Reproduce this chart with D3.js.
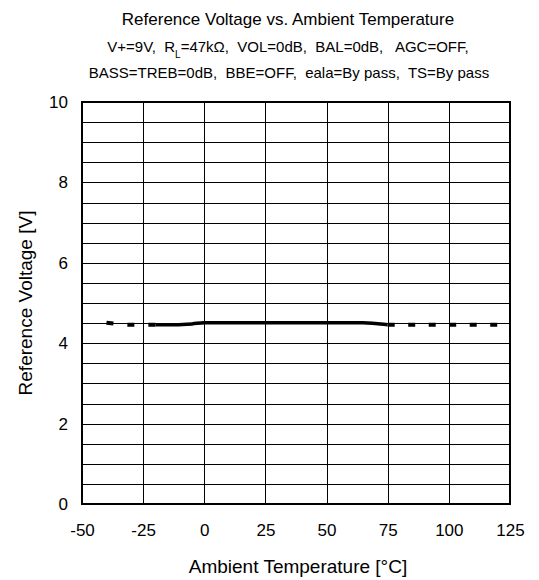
<!DOCTYPE html>
<html>
<head>
<meta charset="utf-8">
<script src="https://cdn.jsdelivr.net/npm/d3@7"></script>
<style>
  html, body { margin: 0; padding: 0; background: #fff; }
  text { font-family: "Liberation Sans", Arial, sans-serif; fill: #000; white-space: pre; }
</style>
</head>
<body>
<svg id="chart" width="539" height="580"></svg>
<script>
// ---- data ----
const xTicks = [-50, -25, 0, 25, 50, 75, 100, 125];
const yTicks = [0, 2, 4, 6, 8, 10];
const dashedLeftT = [-40, -30, -20];
const dashedLeftV = [4.51, 4.46, 4.46];
const solidT = [-20, -12, -5, 0, 25, 50, 65, 70, 75];
const solidV = [4.46, 4.46, 4.48, 4.51, 4.51, 4.51, 4.51, 4.49, 4.46];
const dashedRightT = [75, 100, 120];
const dashedRightV = [4.46, 4.46, 4.46];

const titleText = "Reference Voltage vs. Ambient Temperature";
const xLabel = "Ambient Temperature [°C]";
const yLabel = "Reference Voltage [V]";

// ---- layout ----
const svg = d3.select("#chart");
const x = d3.scaleLinear().domain([-50, 125]).range([82, 510]);
const y = d3.scaleLinear().domain([0, 10]).range([504, 102]);

// grid
const grid = svg.append("g");
grid.selectAll("line.h").data(d3.range(0, 10.01, 0.5)).join("line")
  .attr("x1", x(-50)).attr("x2", x(125))
  .attr("y1", d => Math.round(y(d)) + 0.5).attr("y2", d => Math.round(y(d)) + 0.5)
  .attr("stroke", "#000").attr("stroke-width", 1);
grid.selectAll("line.v").data(xTicks).join("line")
  .attr("y1", y(0)).attr("y2", y(10))
  .attr("x1", d => Math.round(x(d)) + 0.5).attr("x2", d => Math.round(x(d)) + 0.5)
  .attr("stroke", "#000").attr("stroke-width", 1);

// frame
svg.append("rect")
  .attr("x", x(-50)).attr("y", y(10))
  .attr("width", x(125) - x(-50)).attr("height", y(0) - y(10))
  .attr("fill", "none").attr("stroke", "#000").attr("stroke-width", 2);

// axes (labels only)
const xAxis = svg.append("g").attr("transform", `translate(0,${y(0)})`)
  .call(d3.axisBottom(x).tickValues(xTicks).tickFormat(d => String(d)).tickSize(0).tickPadding(20));
xAxis.select(".domain").remove();
xAxis.selectAll("text").style("font-size", "17px").style("font-family", "'Liberation Sans', Arial, sans-serif");

const yAxis = svg.append("g").attr("transform", `translate(${x(-50)},0)`)
  .call(d3.axisLeft(y).tickValues(yTicks).tickFormat(d => String(d)).tickSize(0).tickPadding(14));
yAxis.select(".domain").remove();
yAxis.selectAll("text").style("font-size", "17px").style("font-family", "'Liberation Sans', Arial, sans-serif");

// lines
const line = d3.line().x(d => x(d[0])).y(d => y(d[1])).curve(d3.curveMonotoneX);
svg.append("path").datum(dashedLeftT.map((t, i) => [t, dashedLeftV[i]]))
  .attr("d", line).attr("fill", "none").attr("stroke", "#000")
  .attr("stroke-width", 4).attr("stroke-dasharray", "7,14");
svg.append("path").datum(solidT.map((t, i) => [t, solidV[i]]))
  .attr("d", line).attr("fill", "none").attr("stroke", "#000")
  .attr("stroke-width", 3.5);
svg.append("path").datum(dashedRightT.map((t, i) => [t, dashedRightV[i]]))
  .attr("d", line).attr("fill", "none").attr("stroke", "#000")
  .attr("stroke-width", 4).attr("stroke-dasharray", "7,13.5");

// titles
svg.append("text").attr("x", 288).attr("y", 25).attr("text-anchor", "middle")
  .style("font-size", "17px").text(titleText);

const sub1 = svg.append("text").attr("x", 288).attr("y", 52).attr("text-anchor", "middle")
  .style("font-size", "15px");
sub1.append("tspan").text("V+=9V,  R");
sub1.append("tspan").attr("baseline-shift", "sub").style("font-size", "10px").text("L");
sub1.append("tspan").text("=47kΩ,  VOL=0dB,  BAL=0dB,   AGC=OFF,");

svg.append("text").attr("x", 289).attr("y", 78).attr("text-anchor", "middle")
  .style("font-size", "15px").text("BASS=TREB=0dB,  BBE=OFF,  eala=By pass,  TS=By pass");

svg.append("text").attr("x", 298).attr("y", 573).attr("text-anchor", "middle")
  .style("font-size", "19px").text(xLabel);

svg.append("text").attr("transform", "translate(32,303) rotate(-90)").attr("text-anchor", "middle")
  .style("font-size", "19px").text(yLabel);
</script>
</body>
</html>
